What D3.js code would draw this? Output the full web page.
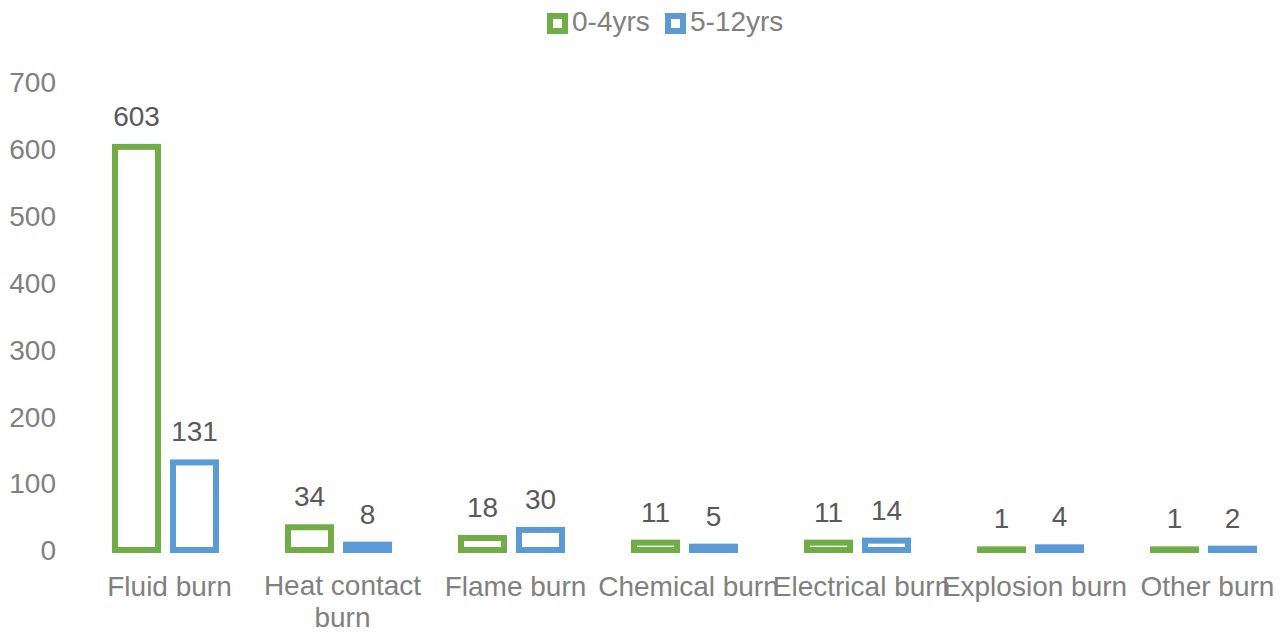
<!DOCTYPE html>
<html><head><meta charset="utf-8">
<script src="https://cdn.jsdelivr.net/npm/d3@7"></script>
<style>body{margin:0;background:#fff;} svg{display:block;font-family:"Liberation Sans",Arial,sans-serif;}</style>
</head><body>
<svg id="c" width="1285" height="635"></svg>
<script>
const categories = ["Fluid burn","Heat contact burn","Flame burn","Chemical burn","Electrical burn","Explosion burn","Other burn"];
const seriesNames = ["0-4yrs","5-12yrs"];
const values0to4 = [603,34,18,11,11,1,1];
const values5to12 = [131,8,30,5,14,4,2];
const yTicks = [0,100,200,300,400,500,600,700];
const colors = ["#70AD47","#5B9BD5"];

const svg = d3.select("#c");
const x0 = d3.scaleBand().domain(categories).range([79,1290]);
const y = d3.scaleLinear().domain([0,700]).range([550,82]);
const x1 = d3.scaleBand().domain(seriesNames).range([0,101]).paddingInner(15/58).paddingOuter(0);
const sw = 6;
const series = [values0to4, values5to12];

// y axis labels
const yAxis = d3.axisLeft(y).tickValues(yTicks).tickSize(0).tickPadding(0);
const ga = svg.append("g").attr("transform","translate(56,0)").call(yAxis);
ga.select(".domain").remove();
ga.selectAll("text").attr("font-size",28).attr("fill","#808080").attr("font-family","Liberation Sans, Arial, sans-serif").attr("dy","0.35em");

// bars
categories.forEach((c,i)=>{
  const base = x0(c) + (x0.bandwidth()-101)/2;
  seriesNames.forEach((s,j)=>{
    const v = series[j][i];
    const bx = base + x1(s);
    const top = y(v);
    svg.append("rect").attr("x",bx).attr("y",top).attr("width",x1.bandwidth()).attr("height",Math.max(0,y(0)-top))
      .attr("fill","#fff").attr("stroke",colors[j]).attr("stroke-width",sw);
    svg.append("text").attr("x",bx+x1.bandwidth()/2).attr("y",top-21).attr("text-anchor","middle")
      .attr("font-size",28).attr("fill","#595959").text(v);
  });
});

// x axis labels
const gx = svg.append("g").attr("transform","translate(4,0)");
categories.forEach(c=>{
  const cx = x0(c)+x0.bandwidth()/2;
  const t = gx.append("text").attr("x",cx).attr("y",596).attr("text-anchor","middle")
    .attr("font-size",28).attr("fill","#808080");
  t.text(c);
  if (t.node().getComputedTextLength() > 200) {
    t.text(null);
    const words = c.split(" ");
    const last = words.pop();
    t.attr("y",595);
    t.append("tspan").attr("x",cx).attr("dy",0).text(words.join(" "));
    t.append("tspan").attr("x",cx).attr("dy",32).text(last);
  }
});

// legend
const legX = [547,665];
seriesNames.forEach((s,j)=>{
  svg.append("rect").attr("x",legX[j]+3).attr("y",16).attr("width",15).attr("height",15)
    .attr("fill","#fff").attr("stroke",colors[j]).attr("stroke-width",6);
  svg.append("text").attr("x",legX[j]+25).attr("y",31).attr("font-size",28).attr("fill","#808080").text(s);
});
</script>
</body></html>
